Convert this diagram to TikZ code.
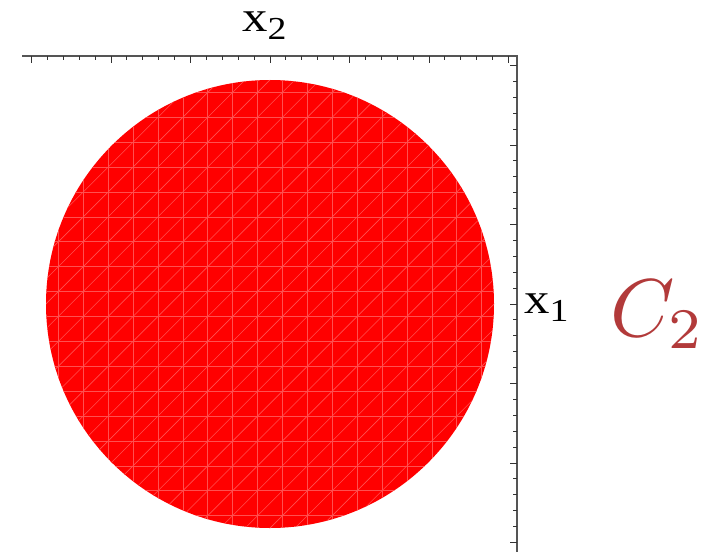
\documentclass[tikz,border=0pt]{standalone}
\usepackage{fontspec}
\usepackage{graphicx}
\usetikzlibrary{calc}
\newfontfamily\axisfont{Liberation Serif}
\definecolor{discred}{RGB}{255, 0, 0}
\definecolor{meshred}{RGB}{255, 80, 80}
\definecolor{labelred}{RGB}{178, 58, 58}
\definecolor{framegray}{RGB}{85, 85, 85}
\newcommand{\axlab}[2]{\scalebox{1.18}[1]{\axisfont\fontsize{43}{46}\selectfont
  #1\raisebox{-8pt}{\fontsize{32}{34}\selectfont #2}}}

\begin{document}
\begin{tikzpicture}[
      x=1pt, y=-1pt,
      frame/.style={draw=framegray, line width=1.2pt},
      tick/.style={draw=black!80, line width=0.9pt},
      mesh/.style={draw=meshred, line width=0.6pt},
      axislabel/.style={inner sep=0pt, anchor=base west},
      setname/.style={inner sep=0pt, anchor=base west, text=labelred}
  ]
  \useasboundingbox (0,0) rectangle (719,556);
  \coordinate (o)   at (270,304);
  \coordinate (tl)  at (22,56);
  \coordinate (tr)  at (517,56);
  \coordinate (br)  at (517,552);

  % the disc and its plot mesh
  \fill[discred] (o) circle[radius=224];
  \begin{scope}
    \clip (o) circle[radius=224];
    \foreach \k in {-9,...,8} {
      \draw[mesh] ($(o)+({(\k+0.5)*24.9},-240)$) -- ++(0,480);
      \draw[mesh] ($(o)+(-240,{(\k+0.5)*24.9})$) -- ++(480,0);
    }
    \foreach \m in {-18,...,18}
      \draw[mesh] ($(o)+({\m*12.45-260},{\m*12.45+260})$) -- ++(520,-520);
  \end{scope}

  % frame with ticks
  \draw[frame] (tl) -- (tr) -- (br);
  \foreach \k in {-15,...,15} {
    \pgfmathsetmacro{\len}{ifthenelse(mod(\k,5)==0,7,4)}
    \draw[tick] (270+\k*15.9,56) -- ++(0,\len);
    \draw[tick] (517,304+\k*15.9) -- ++(-\len,0);
  }

  \node[axislabel] (xtwo) at (242,32)  {\axlab{x}{2}};
  \node[axislabel] (xone) at (524,313) {\axlab{x}{1}};
  \node[setname]   (cset) at (610,336) {\scalebox{8.2}{$C_2$}};
\end{tikzpicture}
\end{document}
